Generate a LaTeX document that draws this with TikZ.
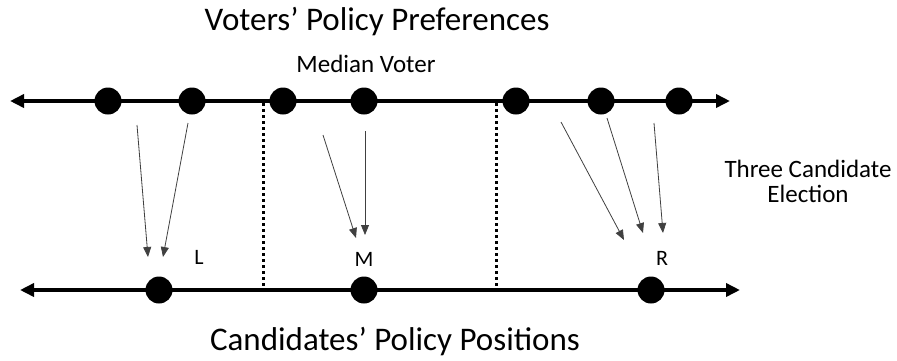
\documentclass[tikz,border=0pt]{standalone}
\usepackage{fontspec}
\setmainfont{Carlito}
\usetikzlibrary{arrows.meta}
\begin{document}
\begin{tikzpicture}[x=1pt,y=-1pt,
  axis/.style={line width=4pt,{Triangle[length=14pt,width=13pt]}-{Triangle[length=14pt,width=13pt]}},
  dot/.style={circle,fill=black,inner sep=0pt,minimum size=27pt},
  mv/.style={draw=black!75,line width=0.8pt,-{Triangle[length=10pt,width=8pt]}},
  sep/.style={line width=3pt,dash pattern=on 3pt off 3pt},
  lbl/.style={font=\fontsize{22}{26}\selectfont,inner sep=0pt,anchor=base}]
\useasboundingbox (0,0) rectangle (897,360);
% axes
\coordinate (tl) at (10,101);
\coordinate (tr) at (730,101);
\coordinate (bl) at (20,290);
\coordinate (br) at (740,290);
\draw[axis] (tl) -- (tr);
\draw[axis] (bl) -- (br);
% separators
\coordinate (s1t) at (263,103);
\coordinate (s1b) at (263,288);
\coordinate (s2t) at (496,103);
\coordinate (s2b) at (496,288);
\draw[sep] (s1t) -- (s1b);
\draw[sep] (s2t) -- (s2b);
% voters
\node[dot] (v1) at (108,101) {};
\node[dot] (v2) at (192,101) {};
\node[dot] (v3) at (283,101) {};
\node[dot] (v4) at (364,101) {};
\node[dot] (v5) at (516,101) {};
\node[dot] (v6) at (601,101) {};
\node[dot] (v7) at (679,101) {};
% candidates
\node[dot] (cL) at (159,290) {};
\node[dot] (cM) at (364,290) {};
\node[dot] (cR) at (651,290) {};
% arrow ends
\coordinate (a1s) at (137,125); \coordinate (a1e) at (148,257);
\coordinate (a2s) at (188,123); \coordinate (a2e) at (163,257);
\coordinate (a3s) at (323,135); \coordinate (a3e) at (356,238);
\coordinate (a4s) at (365,131); \coordinate (a4e) at (365,235);
\coordinate (a5s) at (561,122); \coordinate (a5e) at (624,240);
\coordinate (a6s) at (607,118); \coordinate (a6e) at (643,233);
\coordinate (a7s) at (654,123); \coordinate (a7e) at (663,233);
\draw[mv] (a1s) -- (a1e);
\draw[mv] (a2s) -- (a2e);
\draw[mv] (a3s) -- (a3e);
\draw[mv] (a4s) -- (a4e);
\draw[mv] (a5s) -- (a5e);
\draw[mv] (a6s) -- (a6e);
\draw[mv] (a7s) -- (a7e);
% labels
\node[lbl] (L) at (199,264) {L};
\node[lbl] (M) at (364,266) {M};
\node[lbl] (R) at (662,265) {R};
\node[font=\fontsize{25}{30}\selectfont,inner sep=0pt,anchor=base] (mvt) at (366,72) {Median Voter};
\node[font=\fontsize{25}{30}\selectfont,inner sep=0pt,anchor=base] (tce1) at (808,177) {Three Candidate};
\node[font=\fontsize{25}{30}\selectfont,inner sep=0pt,anchor=base] (tce2) at (808,202) {Election};
\node[font=\fontsize{33}{38}\selectfont,inner sep=0pt,anchor=base] (t1) at (377,30) {Voters’ Policy Preferences};
\node[font=\fontsize{33}{38}\selectfont,inner sep=0pt,anchor=base] (t2) at (395,350) {Candidates’ Policy Positions};
\end{tikzpicture}
\end{document}
